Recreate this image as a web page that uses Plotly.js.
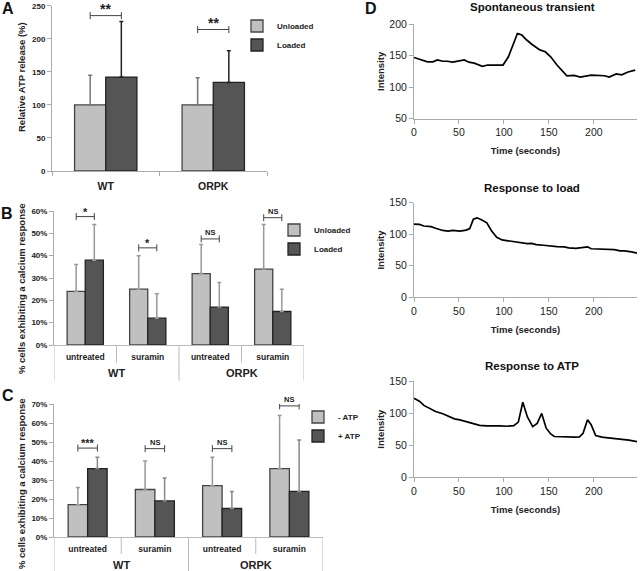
<!DOCTYPE html>
<html><head><meta charset="utf-8">
<script src="https://cdn.plot.ly/plotly-3.0.1.min.js"></script>
<style>html,body{margin:0;padding:0;background:#fff}#chart{width:640px;height:571px}</style>
</head><body><div id="chart"></div>
<script>
// ---------- Panel A: relative ATP release ----------
const groupsA = ['WT', 'ORPK'];
const unloadedA = [100, 100];
const unloadedAErr = [45, 41];
const loadedA = [142, 134];
const loadedAErr = [84, 48];
const sigA = [235, 214];
const sigALabels = ['**', '**'];

// ---------- Panels B & C: categories ----------
const outerCats = ['WT', 'WT', 'ORPK', 'ORPK'];
const innerCats = ['untreated', 'suramin', 'untreated', 'suramin'];

// Panel B: % cells with calcium response, unloaded vs loaded
const unloadedB = [24, 25, 32, 34];
const unloadedBErr = [12, 15, 13, 20];
const loadedB = [38, 12, 17, 15];
const loadedBErr = [16, 11, 11, 10];
const sigB = [57.5, 43.5, 47.5, 57];
const sigBLabels = ['*', '*', 'NS', 'NS'];

// Panel C: % cells with calcium response, -ATP vs +ATP
const minusATP = [17, 25, 27, 36];
const minusATPErr = [9, 15, 15, 28];
const plusATP = [36, 19, 15, 24];
const plusATPErr = [6, 12, 9, 27];
const sigC = [46.8, 46.5, 46.5, 69];
const sigCLabels = ['***', 'NS', 'NS', 'NS'];

const yTitleA = 'Relative ATP release (%)';
const yTitleBC = '% cells exhibiting a calcium response';

// ---------- Panel D: intensity traces ----------
const timeD1 = [0,6,15,21,26,32,37,43,48,56,61,67,76,82,89,99,105,115,120,125,131,140,146,152,159,165,170,178,185,197,204,212,217,225,231,238,246];
const spontaneous = [147,144,140,140,143,141,141,139.5,140.5,143,139.5,138,133,135,135,135,148,185,182.5,175,168,159,156,148,135,125,118,118.5,116,119,118,118,116,121,119.5,124,127];

const timeD2 = [0,6,11,19,24,32,38,43,51,58,62,66,70,75,81,86,92,98,103,111,118,126,131,136,144,152,159,167,172,180,188,193,197,204,213,223,229,234,242,248];
const responseLoad = [116,115.5,113,112,109.5,106,105,106,105,106.5,109,124,126,123,118,106,95,91,90,88,87,85,85.5,83.5,82.5,81,80.5,80,78.5,77.5,79,80,77,76.5,76,75.5,73.5,73.5,72,70];

const timeD3 = [0,6,11,19,24,32,40,45,51,58,66,73,81,88,96,103,111,116,121,126,132,137,142,147,152,156,164,171,179,184,188,193,197,202,209,216,224,231,239,248];
const responseATP = [123,118.5,112,106.5,102.5,99,93.5,91,89.5,86.5,83.5,81,80,80.5,80,79.5,80.5,86,117,94.5,79,84,99.5,76.5,67.5,63.5,63,62.5,62.5,63,68.5,89.5,82,65,62.5,61.5,60.5,60,58,55.5];

const panelTitlesD = ['Spontaneous transient', 'Response to load', 'Response to ATP'];

// ---------- styling ----------
const W = 640, H = 571;
const FONT = 'Liberation Sans, Arial, sans-serif';
const BARGAP = 0.42;
const LIGHT = '#c0c0c0', DARK = '#555555';
const px = v => v / W;
const py = v => 1 - v / H;
const zeros = n => new Array(n).fill(0);
const idxA = groupsA.map((_, i) => i);
const idxBC = innerCats.map((_, i) => i);

function barTrace(x, y, err, name, fill, edge, errColor, xa, ya, legend) {
  return {
    type: 'bar', x: x, y: y, name: name, xaxis: xa, yaxis: ya, legend: legend,
    marker: {color: fill, line: {color: edge, width: 1.3}},
    error_y: {type: 'data', symmetric: false, array: err, arrayminus: zeros(err.length),
              color: errColor, thickness: 1.5, width: 2},
    hoverinfo: 'y'
  };
}

function bracketTrace(levels, xa, ya) {
  const off = (1 - BARGAP) / 4;
  const xs = [], ys = [];
  levels.forEach((lv, i) => { xs.push(i - off, i + off, null); ys.push(lv, lv, null); });
  return {
    type: 'scatter', mode: 'lines+markers', x: xs, y: ys, xaxis: xa, yaxis: ya,
    showlegend: false, hoverinfo: 'skip',
    line: {color: '#444', width: 1},
    marker: {symbol: 'line-ns-open', size: 5, color: '#444', line: {color: '#444', width: 1}}
  };
}

function sigAnnotations(levels, labels, xref, yref, size) {
  return levels.map((lv, i) => ({
    x: i, y: lv, xref: xref, yref: yref, text: labels[i], showarrow: false,
    xanchor: 'center', yanchor: 'bottom', yshift: labels[i] === 'NS' ? 0 : -3,
    font: {family: FONT, size: labels[i] === 'NS' ? 7.5 : size, weight: 'bold', color: '#222'}
  }));
}

// outer group labels and divider lines for the two-level category axes of B and C
function groupAnnotations(xref, yref) {
  const names = [...new Set(outerCats)];
  return names.map(g => {
    const idx = outerCats.map((c, i) => c === g ? i : null).filter(v => v !== null);
    const center = idx.reduce((a, b) => a + b, 0) / idx.length;
    return {x: center, y: 0, xref: xref, yref: yref + ' domain', text: g, showarrow: false,
            xanchor: 'center', yanchor: 'middle', yshift: -28,
            font: {family: FONT, size: 11, weight: 'bold', color: '#222'}};
  });
}
function dividerShapes(xref, yref, plotPx, shortPx, tallPx) {
  const out = [];
  for (let i = 0; i <= outerCats.length; i++) {
    const tall = i === 0 || i === outerCats.length || outerCats[i] !== outerCats[i - 1];
    out.push({type: 'line', xref: xref, yref: yref + ' domain', x0: i - 0.5, x1: i - 0.5,
              y0: 0, y1: -(tall ? tallPx : shortPx) / plotPx, line: {color: '#bbb', width: 1}});
  }
  return out;
}

const traces = [
  barTrace(idxA, unloadedA, unloadedAErr, 'Unloaded', LIGHT, '#444', '#777', 'x', 'y', 'legend'),
  barTrace(idxA, loadedA, loadedAErr, 'Loaded', DARK, '#222', '#222', 'x', 'y', 'legend'),
  bracketTrace(sigA, 'x', 'y'),

  barTrace(idxBC, unloadedB, unloadedBErr, 'Unloaded', LIGHT, '#444', '#999', 'x2', 'y2', 'legend2'),
  barTrace(idxBC, loadedB, loadedBErr, 'Loaded', DARK, '#222', '#999', 'x2', 'y2', 'legend2'),
  bracketTrace(sigB, 'x2', 'y2'),

  barTrace(idxBC, minusATP, minusATPErr, '- ATP', LIGHT, '#444', '#999', 'x3', 'y3', 'legend3'),
  barTrace(idxBC, plusATP, plusATPErr, '+ ATP', DARK, '#222', '#888', 'x3', 'y3', 'legend3'),
  bracketTrace(sigC, 'x3', 'y3'),

  {type: 'scatter', mode: 'lines', x: timeD1, y: spontaneous, xaxis: 'x4', yaxis: 'y4',
   showlegend: false, line: {color: '#000', width: 1.7}},
  {type: 'scatter', mode: 'lines', x: timeD2, y: responseLoad, xaxis: 'x5', yaxis: 'y5',
   showlegend: false, line: {color: '#000', width: 1.7}},
  {type: 'scatter', mode: 'lines', x: timeD3, y: responseATP, xaxis: 'x6', yaxis: 'y6',
   showlegend: false, line: {color: '#000', width: 1.7}}
];

const boldTick = s => ({family: FONT, size: s, weight: 'bold', color: '#222'});
const baseAxis = {
  showline: true, linecolor: '#aaa', linewidth: 1, showgrid: false, zeroline: false,
  ticks: 'outside', ticklen: 4, tickcolor: '#aaa', fixedrange: true
};

function barY(domain, anchor, range, dtick, suffix) {
  return Object.assign({}, baseAxis, {
    domain: domain, anchor: anchor, range: range, dtick: dtick, ticksuffix: suffix,
    tickfont: boldTick(8)
  });
}
function catX(domain, anchor, n, labels) {
  return Object.assign({}, baseAxis, {
    domain: domain, anchor: anchor, range: [-0.5, n - 0.5],
    tickmode: 'array', tickvals: labels.map((_, i) => i), ticktext: labels, ticks: '',
    linecolor: '#bbb', tickfont: boldTick(8.5), ticklabelstandoff: 4
  });
}
function lineX(anchor) {
  return Object.assign({}, baseAxis, {
    domain: [px(414), px(637)], anchor: anchor, range: [0, 248], dtick: 50,
    tickfont: {family: FONT, size: 10.5, color: '#222'},
    title: {text: 'Time (seconds)', font: {family: FONT, size: 9.5, weight: 'bold', color: '#222'}, standoff: 10}
  });
}
function lineY(domain, anchor, range) {
  return Object.assign({}, baseAxis, {
    domain: domain, anchor: anchor, range: range, dtick: 50,
    tickfont: {family: FONT, size: 10.5, color: '#222'},
    title: {text: 'Intensity', font: {family: FONT, size: 9.5, weight: 'bold', color: '#222'}, standoff: 3}
  });
}

const legendBase = {
  bgcolor: 'rgba(0,0,0,0)', borderwidth: 0, xanchor: 'left', yanchor: 'top',
  font: {family: FONT, size: 8, weight: 'bold', color: '#222'}, itemwidth: 30, tracegroupgap: 0
};

const layout = {
  width: W, height: H, margin: {l: 0, r: 0, t: 0, b: 0},
  paper_bgcolor: '#fff', plot_bgcolor: 'rgba(0,0,0,0)',
  font: {family: FONT, color: '#222'},
  barmode: 'group', bargap: BARGAP, bargroupgap: 0,
  showlegend: true,
  legend: Object.assign({}, legendBase, {x: px(237), y: py(11.5)}),
  legend2: Object.assign({}, legendBase, {x: px(274), y: py(215.5)}),
  legend3: Object.assign({}, legendBase, {x: px(298), y: py(402.5)}),

  xaxis: Object.assign(catX([px(52), px(267)], 'y', groupsA.length, groupsA), {
    tickfont: boldTick(10.5), ticklabelstandoff: 5, linecolor: '#aaa',
    minor: {tickmode: 'array', tickvals: groupsA.concat(['']).map((_, i) => i - 0.5),
            ticks: 'outside', ticklen: 4, tickcolor: '#aaa', showgrid: false}}),
  yaxis: barY([py(171), py(5.7)], 'x', [0, 250], 50, ''),

  xaxis2: catX([px(54), px(304)], 'y2', innerCats.length, innerCats),
  yaxis2: barY([py(345), py(211)], 'x2', [0, 60], 10, '%'),

  xaxis3: catX([px(54), px(323)], 'y3', innerCats.length, innerCats),
  yaxis3: barY([py(537), py(404)], 'x3', [0, 70], 10, '%'),

  xaxis4: lineX('y4'),
  yaxis4: lineY([py(118.7), py(24)], 'x4', [50, 200]),
  xaxis5: lineX('y5'),
  yaxis5: lineY([py(297.3), py(202.7)], 'x5', [0, 150]),
  xaxis6: lineX('y6'),
  yaxis6: lineY([py(477.3), py(381)], 'x6', [0, 150]),

  shapes: [].concat(
    dividerShapes('x2', 'y2', 134, 17.7, 35.7),
    dividerShapes('x3', 'y3', 133, 17, 34)
  ),

  annotations: [].concat(
    sigAnnotations(sigA, sigALabels, 'x', 'y', 14),
    sigAnnotations(sigB, sigBLabels, 'x2', 'y2', 11),
    sigAnnotations(sigC, sigCLabels, 'x3', 'y3', 11),
    groupAnnotations('x2', 'y2'),
    groupAnnotations('x3', 'y3'),
    // y-axis titles of the bar panels (centred over plot + category labels, as in the figure)
    [[yTitleA, 77], [yTitleBC, 289], [yTitleBC, 484]].map(d => ({
      text: d[0], textangle: -90, xref: 'paper', yref: 'paper', x: px(21), y: py(d[1]),
      xanchor: 'center', yanchor: 'middle', showarrow: false,
      font: {family: FONT, size: 9.5, weight: 'bold', color: '#222'}
    })),
    panelTitlesD.map((t, i) => ({
      text: t, xref: 'x' + (4 + i) + ' domain', yref: 'y' + (4 + i) + ' domain',
      x: 0.53, y: 1, yanchor: 'bottom', yshift: i === 0 ? 9 : 7, showarrow: false,
      font: {family: FONT, size: 11.5, weight: 'bold', color: '#111'}
    })),
    [['A', 8, 8], ['B', 7, 213], ['C', 8, 395], ['D', 371, 8]].map(d => ({
      text: d[0], xref: 'paper', yref: 'paper', x: px(d[1]), y: py(d[2]),
      xanchor: 'center', yanchor: 'middle', showarrow: false,
      font: {family: FONT, size: 16, weight: 'bold', color: '#111'}
    }))
  )
};

Plotly.newPlot('chart', traces, layout, {staticPlot: true, displayModeBar: false});
</script>
</body></html>
